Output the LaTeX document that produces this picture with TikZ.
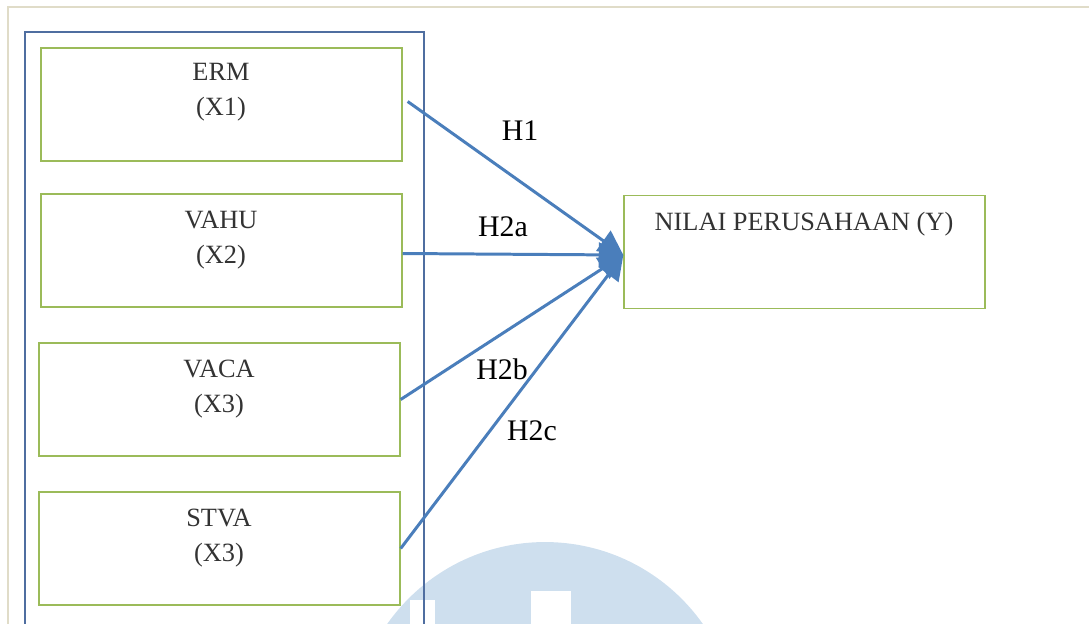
\documentclass[tikz,border=0pt]{standalone}
\usepackage{fontspec}
\setmainfont{Liberation Serif}
\usetikzlibrary{arrows.meta,calc}

\definecolor{boxgreen}{RGB}{155,187,89}
\definecolor{linkblue}{RGB}{74,126,187}
\definecolor{frameblue}{RGB}{79,110,160}
\definecolor{pagerule}{RGB}{224,220,200}
\definecolor{markblue}{RGB}{206,223,238}

\begin{document}
\begin{tikzpicture}[x=0.02cm,y=-0.02cm,
    varbox/.style={draw=boxgreen,line width=0.8pt,minimum width=7.22cm,minimum height=2.26cm,inner sep=0pt},
    vartext/.style={text=black!80,font=\fontsize{15}{20}\selectfont,align=center},
    hyp/.style={font=\fontsize{17}{20}\selectfont},
    link/.style={draw=linkblue,line width=1.7pt,-{Triangle[length=14pt,width=14pt]}}]
  \path[use as bounding box] (0,0) rectangle (1089,623);
  \clip (0,0) rectangle (1089,623);

  % watermark
  \fill[markblue] (545,735) circle [radius=3.86cm];
  \fill[white] (531,591) rectangle (571,630);
  \fill[white] (410,600) rectangle (435,630);

  \draw[pagerule,line width=1.2pt] (1089,7) -- (8,7) -- (8,630);
  \draw[frameblue,line width=0.7pt] (25,630) -- (25,32) -- (424,32) -- (424,630);

  \node[varbox] (erm) at (221.5,104.5) {};
  \node[varbox] (vahu) at (221.5,250.5) {};
  \node[varbox] (vaca) at (219.5,399.5) {};
  \node[varbox] (stva) at (219.5,548.5) {};
  \node[varbox] (nilai) at (804.5,252) {};
  \coordinate (hub) at ($(nilai.west)+(0,3)$);

  \node[vartext] (ermtext) at (221,92) {ERM\\(X1)};
  \node[vartext] (vahutext) at (221,240) {VAHU\\(X2)};
  \node[vartext] (vacatext) at (219,389) {VACA\\(X3)};
  \node[vartext] (stvatext) at (219,538) {STVA\\(X3)};
  \node[vartext] (nilaitext) at (804,224) {NILAI PERUSAHAAN (Y)};

  \draw[link] ($(erm.east)+(5,-3)$) -- (hub);
  \draw[link] ($(vahu.east)+(0,3)$) -- (hub);
  \draw[link] (vaca.east) -- (hub);
  \draw[link] (stva.east) -- (hub);

  \node[hyp] (h1) at (520,131) {H1};
  \node[hyp] (h2a) at (503,227) {H2a};
  \node[hyp] (h2b) at (502,369) {H2b};
  \node[hyp] (h2c) at (532,431) {H2c};

\end{tikzpicture}
\end{document}
